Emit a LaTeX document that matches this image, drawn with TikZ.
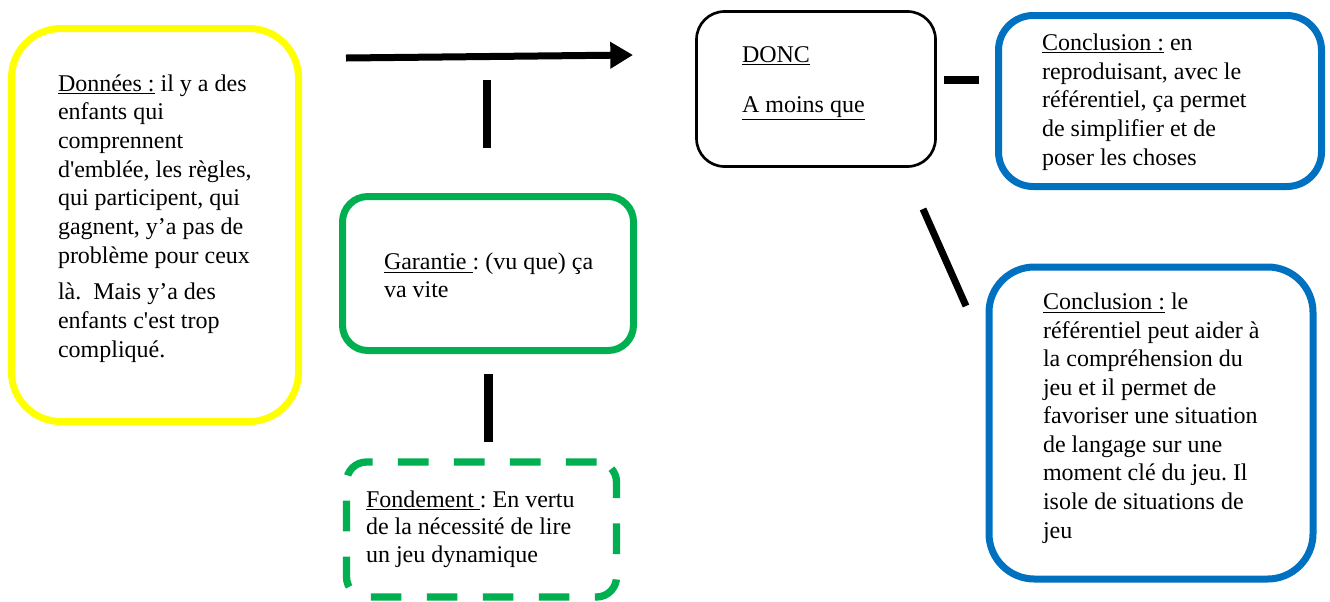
\documentclass[tikz,border=0pt]{standalone}
\usepackage{fontspec}
\setmainfont{Liberation Serif}
\usetikzlibrary{arrows.meta}
\definecolor{myyellow}{HTML}{FFFF00}
\definecolor{mygreen}{HTML}{00B050}
\definecolor{myblue}{HTML}{0070C0}
\newcommand{\sq}{\textquotesingle}
\tikzset{
  box/.style={draw, inner sep=0pt, outer sep=0pt, shape=rectangle},
  txt/.style={anchor=base west, inner sep=0pt, outer sep=0pt, align=left,
    font=\fontsize{18}{21.5}\selectfont},
  bar/.style={line width=6.5pt, black},
}
\begin{document}
\frenchspacing
\begin{tikzpicture}[x=0.75pt, y=-0.75pt]
\useasboundingbox (0,0) rectangle (1330,601);

% boxes
\node[box, draw=myyellow, line width=5.25pt, rounded corners=37pt,
      minimum width=215.25pt, minimum height=294.75pt] (donnees) at (155,225) {};
\node[box, draw=mygreen, line width=5.25pt, rounded corners=19pt,
      minimum width=218.25pt, minimum height=115.5pt] (garantie) at (488,273.5) {};
\node[box, draw=mygreen, line width=5.5pt, rounded corners=15pt,
      dash pattern=on 23pt off 19pt,
      minimum width=202.5pt, minimum height=101.25pt] (fondement) at (481.5,529.5) {};
\node[box, draw=black, line width=2pt, rounded corners=21pt,
      minimum width=179.25pt, minimum height=116.25pt] (donc) at (816,89) {};
\node[box, draw=myblue, line width=5.25pt, rounded corners=26pt,
      minimum width=242.25pt, minimum height=128.25pt] (concl1) at (1160,101) {};
\node[box, draw=myblue, line width=5.25pt, rounded corners=34pt,
      minimum width=243pt, minimum height=234pt] (concl2) at (1151,423) {};

% texts (anchored at the baseline of their last line)
\node[txt] (t-donnees) at (58,357) {\underline{Données :} il y a des\\
enfants qui\\
comprennent\\
d\sq emblée, les règles,\\
qui participent, qui\\
gagnent, y’a pas de\\
problème pour ceux\\[6pt]
là.\ \ Mais y’a des\\
enfants c\sq est trop\\
compliqué.};

\node[txt, font=\fontsize{18}{20.5}\selectfont] (t-garantie) at (384,297)
  {\underline{Garantie }: (vu que) ça\\ va vite};

\node[txt, font=\fontsize{18}{20.6}\selectfont] (t-fondement) at (366,562)
  {\underline{Fondement }: En vertu\\
de la nécessité de lire\\
un jeu dynamique};

\node[txt] (t-donc) at (742,112) {\underline{DONC}\\[16pt] \underline{A moins que}};

\node[txt] (t-concl1) at (1042,165) {\underline{Conclusion :} en\\
reproduisant, avec le\\
référentiel, ça permet\\
de simplifier et de\\
poser les choses};

\node[txt, font=\fontsize{18}{21.4}\selectfont] (t-concl2) at (1043,538)
  {\underline{Conclusion :} le\\
référentiel peut aider à\\
la compréhension du\\
jeu et il permet de\\
favoriser une situation\\
de langage sur une\\
moment clé du jeu. Il\\
isole de situations de\\
jeu};

% free connectors
\coordinate (a1) at (346,58);
\coordinate (a2) at (633,55);
\coordinate (v1a) at (487,80);
\coordinate (v1b) at (487,148);
\coordinate (v2a) at (488.5,374);
\coordinate (v2b) at (488.5,442);
\coordinate (h1a) at (944,80);
\coordinate (h1b) at (979,80);
\coordinate (d1a) at (923,209);
\coordinate (d1b) at (966,306);

\draw[line width=5.25pt, -{Triangle[length=17pt,width=19pt]}] (a1) -- (a2);
\draw[bar] (v1a) -- (v1b);
\draw[bar] (v2a) -- (v2b);
\draw[bar] (h1a) -- (h1b);
\draw[line width=5.25pt] (d1a) -- (d1b);
\end{tikzpicture}
\end{document}
